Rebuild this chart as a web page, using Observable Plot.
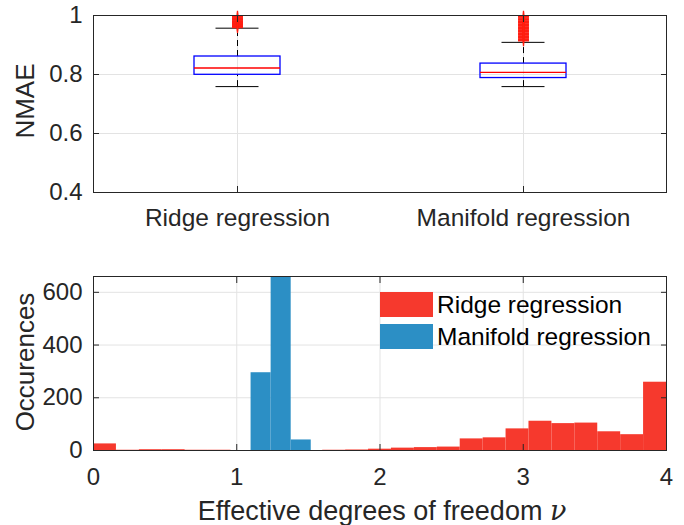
<!DOCTYPE html>
<html><head><meta charset="utf-8">
<script src="https://cdn.jsdelivr.net/npm/d3@7"></script>
<script src="https://cdn.jsdelivr.net/npm/@observablehq/plot@0.6"></script>
<style>
body{margin:0;background:#fff;}
#wrap{position:relative;width:684px;height:525px;font-family:"Liberation Sans",Arial,Helvetica,sans-serif;color:#262626;overflow:hidden;}
#wrap svg{position:absolute;left:0;overflow:visible;}
.lab{position:absolute;white-space:nowrap;line-height:1;}
</style></head><body><div id="wrap"></div>
<script>
// ---- top panel: boxplots of NMAE ----
const methods = ["Ridge regression", "Manifold regression"];
const boxQ1 = [0.799, 0.788];
const boxMedian = [0.822, 0.807];
const boxQ3 = [0.861, 0.837];
const whiskerLow = [0.759, 0.759];
const whiskerHigh = [0.957, 0.909];
const ridgeOutliers = [0.959, 0.961, 0.963, 0.964, 0.966, 0.968, 0.970, 0.971, 0.973, 0.975, 0.977, 0.978, 0.980, 0.982, 0.984, 0.986, 0.988, 0.990, 0.992, 0.994, 0.996, 0.998];
const manifoldOutliers = [0.914, 0.916, 0.919, 0.921, 0.924, 0.926, 0.929, 0.931, 0.934, 0.936, 0.939, 0.941, 0.944, 0.946, 0.949, 0.951, 0.954, 0.956, 0.959, 0.961, 0.964, 0.966, 0.969, 0.971, 0.974, 0.976, 0.979, 0.981, 0.984, 0.986, 0.989, 0.991, 0.994, 0.996, 0.998];
const nmaeTicks = [0.4, 0.6, 0.8, 1];

// ---- bottom panel: histograms of effective dof ----
const ridgeEdges = [0, 0.16, 0.32, 0.48, 0.64, 0.80, 0.96, 1.12, 1.28, 1.44, 1.60, 1.76, 1.92, 2.08, 2.24, 2.40, 2.56, 2.72, 2.88, 3.04, 3.20, 3.36, 3.52, 3.68, 3.84, 4.00];
const ridgeCounts = [25, 1, 3, 3, 1, 1, 0, 0, 0, 0, 1, 2, 5, 9, 11, 13, 44, 48, 82, 111, 102, 104, 71, 60, 259];
const manifoldEdges = [1.10, 1.24, 1.38, 1.52];
const manifoldCounts = [295, 668, 40];
const dofTicks = [0, 1, 2, 3, 4];
const countTicks = [0, 200, 400, 600];
const seriesNames = ["Ridge regression", "Manifold regression"];
const seriesColors = ["#f6392d", "#2c8fc5"];

const boxColor = "#0000ff", medianColor = "#ff0000", outlierColor = "#ff1e12";
const ink = "#262626", gridColor = "#e3e3e3";
const font = '"Liberation Sans", Arial, Helvetica, sans-serif';

const boxes = methods.map((m, i) => ({method: m, q1: boxQ1[i], med: boxMedian[i], q3: boxQ3[i], lo: whiskerLow[i], hi: whiskerHigh[i]}));
const outliers = [
  ...ridgeOutliers.map(v => ({method: methods[0], value: v})),
  ...manifoldOutliers.map(v => ({method: methods[1], value: v}))
];

const wrap = document.getElementById("wrap");
const noText = () => "";

const topChart = Plot.plot({
  width: 684, height: 240,
  marginLeft: 93, marginRight: 18, marginTop: 15, marginBottom: 48,
  style: {fontFamily: font, color: ink, background: "transparent", overflow: "visible"},
  x: {type: "band", domain: methods, paddingInner: 0.7, paddingOuter: 0.35},
  y: {domain: [0.4, 1]},
  marks: [
    Plot.gridY(nmaeTicks, {stroke: gridColor, strokeOpacity: 1}),
    Plot.gridX(methods, {stroke: gridColor, strokeOpacity: 1}),
    Plot.ruleX(boxes, {x: "method", y1: "q3", y2: "hi", stroke: "#000", strokeDasharray: "6,4"}),
    Plot.ruleX(boxes, {x: "method", y1: "lo", y2: "q1", stroke: "#000", strokeDasharray: "6,4"}),
    Plot.tickY(boxes, {x: "method", y: "hi", stroke: "#000", insetLeft: 21.5, insetRight: 21.5}),
    Plot.tickY(boxes, {x: "method", y: "lo", stroke: "#000", insetLeft: 21.5, insetRight: 21.5}),
    Plot.barY(boxes, {x: "method", y1: "q1", y2: "q3", fill: "none", stroke: boxColor, strokeWidth: 1.3}),
    Plot.tickY(boxes, {x: "method", y: "med", stroke: medianColor, strokeWidth: 1.3}),
    Plot.dot(outliers, {x: "method", y: "value", symbol: "plus", r: 3.6, stroke: outlierColor, strokeWidth: 1.2}),
    Plot.axisY(nmaeTicks, {anchor: "left", tickSize: 0, tickPadding: 11, fontSize: 24, label: null, tickFormat: d => `${d}`}),
    Plot.axisY(nmaeTicks, {anchor: "left", tickSize: -6, tickFormat: noText, label: null}),
    Plot.axisY(nmaeTicks, {anchor: "right", tickSize: -6, tickFormat: noText, label: null}),
    Plot.axisX({anchor: "bottom", tickSize: 0, tickPadding: 16, fontSize: 24.5, label: null}),
    Plot.axisX({anchor: "bottom", tickSize: -6, tickFormat: noText, label: null}),
    Plot.axisX({anchor: "top", tickSize: -6, tickFormat: noText, label: null}),
    Plot.frame({stroke: ink})
  ]
});
topChart.style.top = "0px";
wrap.appendChild(topChart);

const ridgeBars = ridgeCounts.map((c, i) => ({x1: ridgeEdges[i], x2: ridgeEdges[i + 1], y1: 0, y2: c}));
const manifoldBars = manifoldCounts.map((c, i) => ({x1: manifoldEdges[i], x2: manifoldEdges[i + 1], y1: 0, y2: c}));

const bottomChart = Plot.plot({
  width: 684, height: 285,
  marginLeft: 93, marginRight: 18, marginTop: 36, marginBottom: 75,
  style: {fontFamily: font, color: ink, background: "transparent", overflow: "visible"},
  x: {domain: [0, 4]},
  y: {domain: [0, 660]},
  marks: [
    Plot.gridX(dofTicks, {stroke: gridColor, strokeOpacity: 1}),
    Plot.gridY(countTicks, {stroke: gridColor, strokeOpacity: 1}),
    Plot.rect(ridgeBars, {x1: "x1", x2: "x2", y1: "y1", y2: "y2", fill: seriesColors[0], clip: true}),
    Plot.rect(manifoldBars, {x1: "x1", x2: "x2", y1: "y1", y2: "y2", fill: seriesColors[1], clip: true}),
    Plot.axisY(countTicks, {anchor: "left", tickSize: 0, tickPadding: 11, fontSize: 24, label: null, tickFormat: d => `${d}`}),
    Plot.axisY(countTicks, {anchor: "left", tickSize: -6, tickFormat: noText, label: null}),
    Plot.axisY(countTicks, {anchor: "right", tickSize: -6, tickFormat: noText, label: null}),
    Plot.axisX(dofTicks, {anchor: "bottom", tickSize: 0, tickPadding: 17, fontSize: 24, label: null, tickFormat: d => `${d}`}),
    Plot.axisX(dofTicks, {anchor: "bottom", tickSize: -6, tickFormat: noText, label: null}),
    Plot.axisX(dofTicks, {anchor: "top", tickSize: -6, tickFormat: noText, label: null}),
    Plot.frame({stroke: ink})
  ]
});
bottomChart.style.top = "240px";
wrap.appendChild(bottomChart);

// ---- axis labels ----
function addLabel(html, css) {
  const d = document.createElement("div");
  d.className = "lab";
  d.innerHTML = html;
  Object.assign(d.style, css);
  wrap.appendChild(d);
  return d;
}
addLabel("NMAE", {left: "24.5px", top: "101px", fontSize: "26px", transform: "translate(-50%,-50%) rotate(-90deg)"});
addLabel("Occurences", {left: "24.5px", top: "362px", fontSize: "26px", transform: "translate(-50%,-50%) rotate(-90deg)"});
addLabel('Effective degrees of freedom <span style="font-family:\'DejaVu Serif\',\'Liberation Serif\',serif;font-style:italic;">&nu;</span>',
  {left: "382px", top: "497px", fontSize: "27px", transform: "translateX(-50%)"});

// ---- legend ----
seriesNames.forEach((name, i) => {
  const y = 292 + i * 32;
  const sw = document.createElement("div");
  Object.assign(sw.style, {position: "absolute", left: "380px", top: y + "px", width: "53px", height: "24.5px", background: seriesColors[i]});
  wrap.appendChild(sw);
  addLabel(name, {left: "437px", top: (y + 12.5) + "px", fontSize: "24.5px", transform: "translateY(-50%)", color: "#000"});
});
</script>
</body></html>
